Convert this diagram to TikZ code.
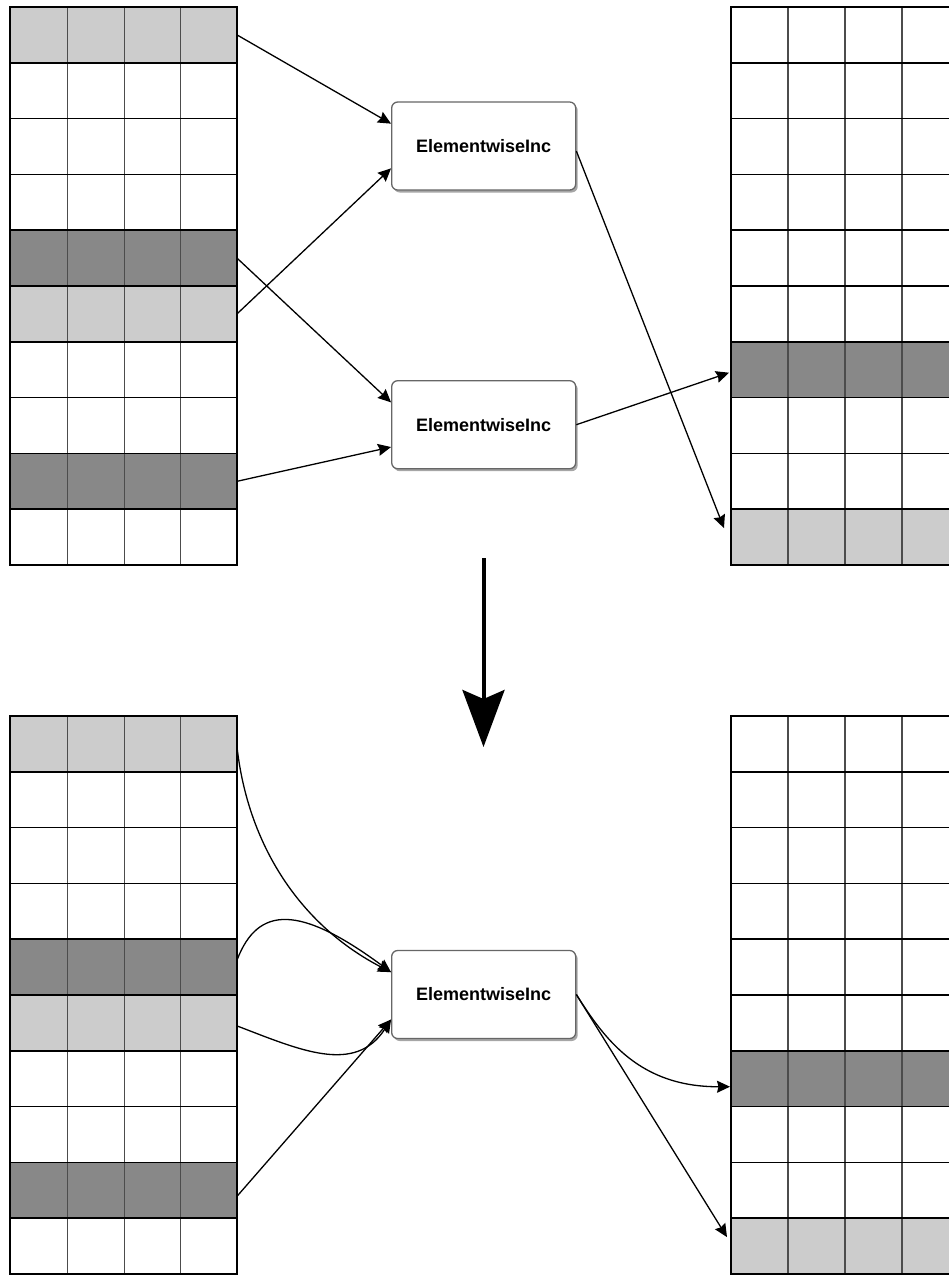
\documentclass[tikz,border=0pt]{standalone}
\usepackage{fontspec}
\setmainfont{Liberation Sans}
\usetikzlibrary{arrows.meta,calc,shadows}
\definecolor{lightrow}{HTML}{CCCCCC}
\definecolor{darkrow}{HTML}{888888}
\definecolor{boxline}{HTML}{666666}
\tikzset{
  rowcell/.style={draw=none, minimum height=55.8pt, inner sep=0pt, outer sep=0pt, anchor=north west},
  leftrow/.style={rowcell, minimum width=227pt},
  rightrow/.style={rowcell, minimum width=228pt},
  gridline/.style={draw=black, line width=1.7pt},
  colline/.style={draw=black!70, line width=1.2pt},
  opbox/.style={draw=boxline, line width=1.3pt, rounded corners=6pt, fill=white,
    minimum width=184pt, minimum height=88pt, inner sep=0pt,
    font=\bfseries\fontsize{18}{20}\selectfont,
    drop shadow={shadow xshift=2pt, shadow yshift=-2.5pt, opacity=0.35, fill=black}},
  conn/.style={draw=black, line width=1.3pt, -{Stealth[length=13pt,width=12pt,inset=1.5pt]}},
  bigarrow/.style={draw=black, line width=4pt, -{Stealth[length=57pt,width=42pt,inset=9pt]}}
}
\begin{document}
\begin{tikzpicture}[x=1pt,y=-1pt]
\useasboundingbox (0,0) rectangle (949,1275);
\clip (0,0) rectangle (949,1275);
% ---------- grids ----------
% top-left
\foreach \i/\f in {0/lightrow,1/white,2/white,3/white,4/darkrow,5/lightrow,6/white,7/white,8/darkrow,9/white}
  \node[leftrow, fill=\f] (TL\i) at (10,{7+\i*55.8}) {};
% top-right
\foreach \i/\f in {0/white,1/white,2/white,3/white,4/white,5/white,6/darkrow,7/white,8/white,9/lightrow}
  \node[rightrow, fill=\f] (TR\i) at (731,{7+\i*55.8}) {};
% bottom-left
\foreach \i/\f in {0/lightrow,1/white,2/white,3/white,4/darkrow,5/lightrow,6/white,7/white,8/darkrow,9/white}
  \node[leftrow, fill=\f] (BL\i) at (10,{716+\i*55.8}) {};
% bottom-right
\foreach \i/\f in {0/white,1/white,2/white,3/white,4/white,5/white,6/darkrow,7/white,8/white,9/lightrow}
  \node[rightrow, fill=\f] (BR\i) at (731,{716+\i*55.8}) {};
% column lines
\foreach \x in {67.5,124.5,180.5} {
  \draw[colline] (\x,7) -- (\x,565);
  \draw[colline] (\x,716) -- (\x,1274);
}
\foreach \x in {788,845,902} {
  \draw[colline] (\x,7) -- (\x,565);
  \draw[colline] (\x,716) -- (\x,1274);
}
% row borders
\foreach \g in {TL,TR,BL,BR}
  \foreach \i in {0,...,9}
    \draw[gridline] (\g\i.north west) rectangle (\g\i.south east);
% ---------- boxes ----------
\node[opbox] (b1) at (483.7,146) {ElementwiseInc};
\node[opbox] (b2) at (483.7,424.7) {ElementwiseInc};
\node[opbox] (b3) at (483.7,994.5) {ElementwiseInc};
% ---------- top connectors ----------
\draw[conn] (TL0.east) -- ($(b1.north west)!0.25!(b1.south west)$);
\draw[conn] (TL5.east) -- ($(b1.north west)!0.75!(b1.south west)$);
\draw[conn] (TL4.east) -- ($(b2.north west)!0.25!(b2.south west)$);
\draw[conn] (TL8.east) -- ($(b2.north west)!0.75!(b2.south west)$);
\draw[conn] ($(b1.east)+(0,5)$) -- ($(TR9.west)+(-7,-9)$);
\draw[conn] (b2.east) -- ($(TR6.west)+(-2,3)$);
% ---------- big arrow ----------
\coordinate (bigA) at (483.5,558);
\coordinate (bigB) at (483.5,747);
\draw[bigarrow] (bigA) -- (bigB);
% ---------- bottom connectors ----------
\coordinate (b3in1) at ($(b3.north west)!0.25!(b3.south west)$);
\coordinate (b3in2) at ($(b3.north west)!0.78!(b3.south west)$);
\draw[conn] ($(BL0.east)+(0,3)$) .. controls (248,845) and (300,925) .. (b3in1);
\draw[conn] ($(BL4.east)+(0,-7)$) .. controls (258,905) and (300,905) .. (b3in1);
\draw[conn] ($(BL5.east)+(0,3)$) .. controls (300,1050) and (355,1075) .. (b3in2);
\draw[conn] ($(BL8.east)+(0,6)$) -- (b3in2);
\draw[conn] (b3.east) .. controls (605,1040) and (640,1087) .. ($(BR6.west)+(-1,8)$);
\draw[conn] (b3.east) -- ($(BR9.west)+(-4,-9)$);
\end{tikzpicture}
\end{document}
